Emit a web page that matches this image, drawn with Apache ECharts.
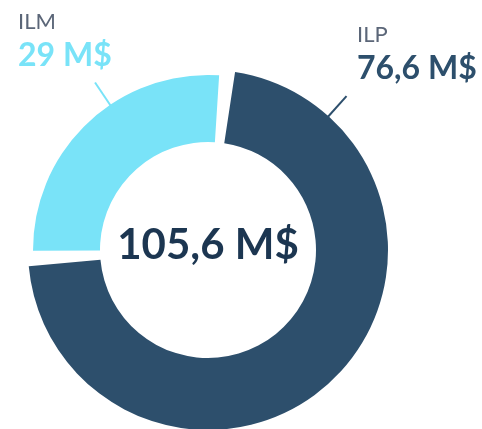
<!DOCTYPE html>
<html>
<head>
<meta charset="utf-8">
<script src="https://cdn.jsdelivr.net/npm/echarts@6/dist/echarts.min.js"></script>
<style>
  html, body { margin: 0; padding: 0; background: #fff; }
  #chart { width: 482px; height: 429px; }
</style>
</head>
<body>
<div id="chart"></div>
<script>
  var names = ['ILP', 'ILM']
  var values = [76.6, 29]
  var unit = 'M$'

  var colors = ['#2d4f6c', '#79e3f8']
  var outerRadius = [180, 175]
  // top-left of each label block, and angle of its little pointer line (deg, clockwise from 12 o'clock)
  var labelPos = [[357, 21], [18, 8]]
  var lineAngle = [42, -34]

  var center = [208, 250]
  var innerRadius = 108

  function fmt (v) {
    return String(Math.round(v * 10) / 10).replace('.', ',') + ' ' + unit
  }

  function polar (r, deg) {
    var a = deg * Math.PI / 180
    return [center[0] + r * Math.sin(a), center[1] - r * Math.cos(a)]
  }

  var total = values.reduce(function (s, v) { return s + v }, 0)

  var chart = echarts.init(document.getElementById('chart'))

  // one ring per slice so each can keep its own outer radius
  var series = names.map(function (name, i) {
    return {
      type: 'pie',
      center: center,
      radius: [innerRadius, outerRadius[i]],
      startAngle: 83.85,
      padAngle: 5,
      silent: true,
      animation: false,
      data: names.map(function (n, j) {
        var item = { name: n, value: values[j] }
        if (j !== i) {
          item.itemStyle = { color: 'transparent' }
          item.label = { show: false }
          item.labelLine = { show: false }
        } else {
          item.itemStyle = { color: colors[j] }
        }
        return item
      }),
      label: {
        show: true,
        position: 'outside',
        overflow: 'none',
        formatter: function (p) {
          return '{n|' + p.name + '}\n{v|' + fmt(p.value) + '}'
        },
        rich: {
          n: { fontFamily: 'Lato', fontSize: 22, color: '#5b6678', lineHeight: 28 },
          v: { fontFamily: 'Lato', fontSize: 32, fontWeight: 'bold', color: colors[i], lineHeight: 40 }
        }
      },
      labelLine: {
        show: true,
        lineStyle: { color: colors[i], width: 2 }
      },
      labelLayout: function () {
        return {
          x: labelPos[i][0],
          y: labelPos[i][1],
          align: 'left',
          verticalAlign: 'top',
          labelLinePoints: [polar(outerRadius[i] - 1, lineAngle[i]), polar(outerRadius[i] + 27, lineAngle[i])]
        }
      }
    }
  })

  chart.setOption({
    backgroundColor: '#fff',
    graphic: [{
      type: 'text',
      x: center[0],
      y: 245,
      style: {
        text: fmt(total),
        fontFamily: 'Lato',
        fontSize: 42,
        fontWeight: 'bold',
        fill: '#1c3651',
        textAlign: 'center',
        textVerticalAlign: 'middle'
      }
    }],
    series: series
  })
</script>
</body>
</html>
